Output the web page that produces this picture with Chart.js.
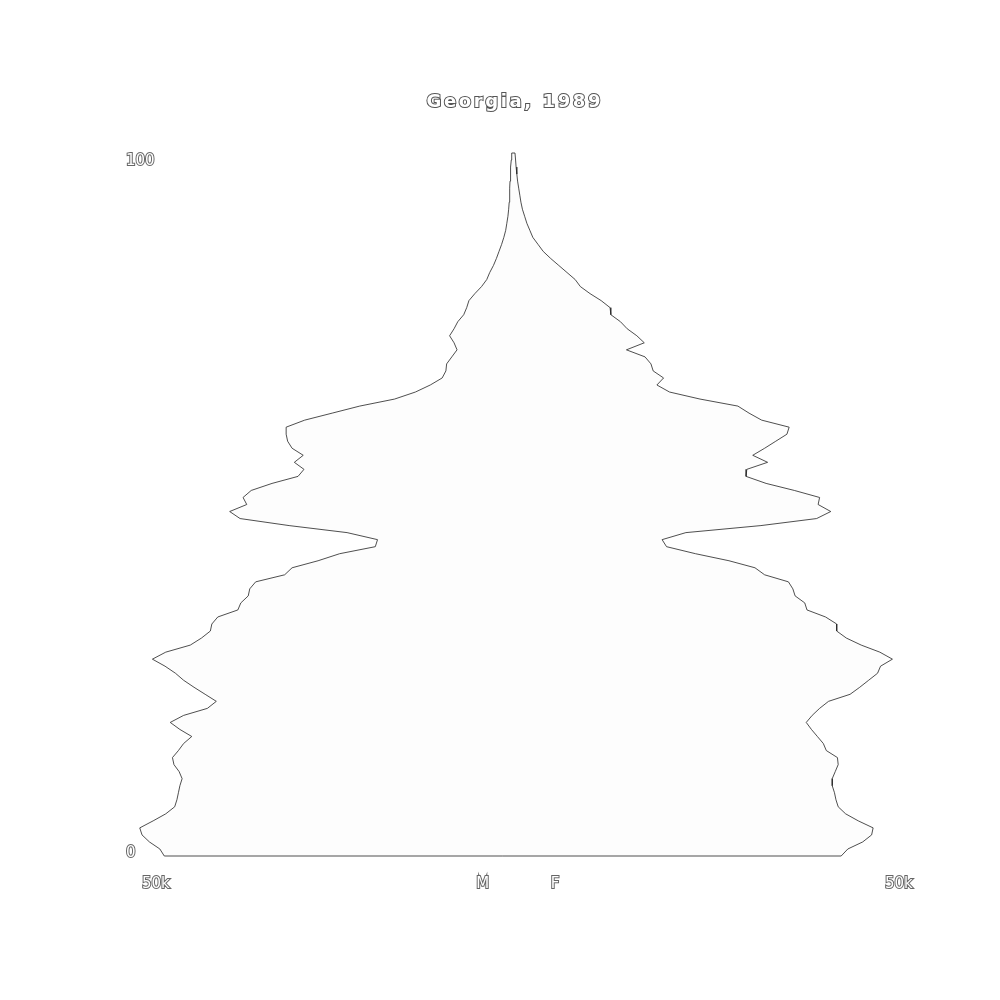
<!DOCTYPE html>
<html>
<head>
<meta charset="utf-8">
<title>Georgia, 1989</title>
<script src="https://cdn.jsdelivr.net/npm/chart.js@4/dist/chart.umd.min.js"></script>
<style>
  html, body { margin: 0; padding: 0; background: #fff; }
  #wrap { width: 1000px; height: 1000px; }
</style>
</head>
<body>
<div id="wrap"><canvas id="pyramid" width="1000" height="1000"></canvas></div>
<script>
var title = 'Georgia, 1989';

// age in years, population in thousands
var ages = [];
for (var a = 0; a <= 100; a++) ages.push(a);

var male = [
  47.0, 47.6, 49.0, 50.0, 50.3, 48.5, 46.8, 45.6, 45.3, 45.1,
  44.9, 44.6, 45.0, 45.7, 45.9, 45.1, 44.4, 43.3, 44.9, 46.2,
  44.4, 41.2, 40.0, 41.5, 43.0, 44.4, 45.5, 46.9, 48.6, 46.8,
  43.5, 42.0, 40.8, 40.6, 39.8, 37.1, 36.7, 35.7, 35.5, 34.7,
  30.8, 29.8, 26.3, 23.4, 18.6, 18.3, 22.4, 30.2, 36.8, 38.2,
  35.9, 36.4, 35.3, 32.5, 29.0, 28.2, 29.5, 28.3, 29.8, 30.4,
  30.6, 30.6, 28.1, 24.4, 20.7, 16.0, 13.2, 11.2, 9.6, 9.1,
  9.0, 8.3, 7.6, 8.0, 8.6, 8.0, 7.5, 6.7, 6.3, 6.0,
  5.2, 4.3, 3.6, 3.2, 2.7, 2.3, 1.95, 1.6, 1.3, 1.05,
  0.9, 0.75, 0.65, 0.58, 0.53, 0.5, 0.47, 0.42, 0.37, 0.3,
  0.24
];

var female = [
  44.1, 45.0, 47.0, 48.2, 48.4, 46.4, 44.7, 43.7, 43.4, 43.2,
  42.9, 42.9, 43.3, 43.7, 43.6, 42.1, 41.7, 40.9, 40.1, 39.4,
  40.2, 41.2, 42.4, 45.3, 46.6, 47.8, 49.0, 49.4, 51.0, 49.3,
  46.8, 44.8, 43.5, 43.5, 42.0, 39.5, 39.2, 37.9, 37.6, 37.0,
  33.8, 32.5, 29.0, 24.5, 20.6, 20.0, 23.2, 33.3, 40.8, 42.7,
  41.0, 41.2, 37.8, 34.0, 31.3, 31.4, 34.2, 32.2, 33.8, 35.3,
  36.8, 37.1, 33.4, 31.7, 30.2, 25.1, 21.0, 19.3, 20.2, 18.8,
  18.5, 17.7, 15.2, 17.6, 16.6, 15.3, 14.4, 13.1, 13.0, 11.8,
  10.3, 9.0, 8.3, 7.2, 6.1, 5.0, 4.0, 3.3, 2.6, 2.2,
  1.8, 1.5, 1.2, 1.0, 0.85, 0.7, 0.55, 0.45, 0.35, 0.28,
  0.2
];

var xTickValues = [-50, -5, 5, 50];
var xTickLabels = ['50k', 'M', 'F', '50k'];
var yTickValues = [0, 100];

// outline: up the male side, down the female side, back to start
var outline = [];
ages.forEach(function (age, i) { outline.push({ x: -male[i], y: age }); });
for (var i = ages.length - 1; i >= 0; i--) outline.push({ x: female[i], y: ages[i] });
outline.push({ x: -male[0], y: ages[0] });

var outlinedTitle = {
  id: 'outlinedTitle',
  afterDraw: function (chart) {
    var ctx = chart.ctx;
    var area = chart.chartArea;
    ctx.save();
    ctx.font = 'bold 18px "DejaVu Sans"';
    ctx.letterSpacing = '2.6px';
    ctx.textAlign = 'center';
    ctx.textBaseline = 'middle';
    ctx.lineWidth = 2;
    ctx.strokeStyle = '#555';
    ctx.fillStyle = '#fff';
    var cx = (area.left + area.right) / 2 + 1.3;
    ctx.strokeText(title, cx, 102);
    ctx.fillText(title, cx, 102);
    ctx.restore();
  }
};

var ctx = document.getElementById('pyramid').getContext('2d');
new Chart(ctx, {
  type: 'scatter',
  data: {
    datasets: [{
      data: outline,
      showLine: true,
      fill: 'shape',
      backgroundColor: '#fdfdfd',
      borderColor: '#222',
      borderWidth: 0.8,
      pointRadius: 0,
      pointHoverRadius: 0,
      tension: 0,
      clip: false
    }]
  },
  options: {
    responsive: false,
    animation: false,
    events: [],
    layout: { padding: { left: 126, right: 115, top: 153, bottom: 0 } },
    plugins: {
      legend: { display: false },
      tooltip: { enabled: false }
    },
    scales: {
      x: {
        type: 'linear',
        min: -50,
        max: 50,
        grid: { display: false, drawTicks: false },
        border: { display: false },
        afterFit: function (s) { s.height = 144; },
        afterBuildTicks: function (s) {
          s.ticks = xTickValues.map(function (v) { return { value: v }; });
        },
        ticks: {
          align: 'start',
          padding: 19,
          maxRotation: 0,
          autoSkip: false,
          color: '#fff',
          textStrokeColor: '#666',
          textStrokeWidth: 2,
          font: { family: 'DejaVu Sans', size: 15 },
          callback: function (v) {
            var k = xTickValues.indexOf(v);
            return k >= 0 ? xTickLabels[k] : '';
          }
        }
      },
      y: {
        type: 'linear',
        display: false,
        min: 0,
        max: 100
      },
      // age labels sit on a slightly different range than the outline
      yLabels: {
        type: 'linear',
        position: 'left',
        min: -0.43,
        max: 101.11,
        grid: { display: false, drawTicks: false },
        border: { display: false },
        afterFit: function (s) { s.width = 16; },
        afterBuildTicks: function (s) {
          s.ticks = yTickValues.map(function (v) { return { value: v }; });
        },
        ticks: {
          mirror: true,
          padding: -16,
          autoSkip: false,
          color: '#fff',
          textStrokeColor: '#666',
          textStrokeWidth: 2,
          font: { family: 'DejaVu Sans', size: 15 }
        }
      }
    }
  },
  plugins: [outlinedTitle]
});
</script>
</body>
</html>
